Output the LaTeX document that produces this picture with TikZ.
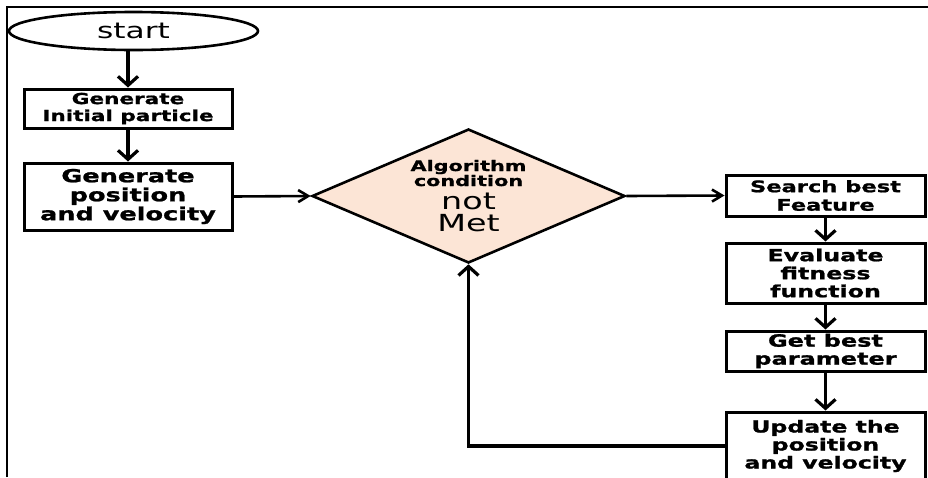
\documentclass[tikz,border=0pt]{standalone}
\usepackage{fontspec}
\newfontfamily\wf[FakeStretch=1.42,BoldFeatures={FakeBold=1.2}]{DejaVu Sans}
\usetikzlibrary{shapes.geometric,arrows.meta}
\definecolor{peach}{RGB}{252,229,214}
\begin{document}
\begin{tikzpicture}[x=1pt,y=-1pt,
  box/.style={draw,line width=3pt,rectangle,inner sep=0pt,align=center,minimum width=#1},
  box/.default=208pt,
  varr/.style={line width=3.2pt,-{Straight Barb[length=9pt,width=20pt]}},
  harr/.style={line width=2.6pt,-{Straight Barb[length=10pt,width=12pt]}},
  txt/.style={inner sep=0pt,anchor=base}]
\useasboundingbox (0,0) rectangle (928,477);
\clip (0,0) rectangle (928,477);
% frame
\draw[line width=2.6pt] (7,477) -- (7,7) -- (928,7);
% left column
\node[draw,ellipse,line width=2.6pt,inner sep=0pt,minimum width=249pt,minimum height=38pt,
  font=\wf\fontsize{22}{26}\selectfont] (st) at (133.5,31) {start};
\node[box,minimum height=39pt,font=\wf\bfseries\fontsize{15.2}{17}\selectfont] (b1) at (128,108.5)
  {Generate\\Initial particle};
\node[box,minimum height=67pt,font=\wf\bfseries\fontsize{18}{19}\selectfont] (b2) at (128,196.5)
  {Generate\\position\\and velocity};
% decision
\node[draw,diamond,fill=peach,line width=2.6pt,inner sep=0pt,minimum width=313pt,minimum height=134pt]
  (dm) at (468.5,196) {};
\node[txt,font=\wf\bfseries\fontsize{14.6}{15}\selectfont] (d1) at (468.5,171) {Algorithm};
\node[txt,font=\wf\bfseries\fontsize{14.6}{15}\selectfont] (d2) at (468.5,186) {condition};
\node[txt,font=\wf\fontsize{23.5}{24}\selectfont] (d3) at (468.5,209) {not};
\node[txt,font=\wf\fontsize{23.5}{24}\selectfont] (d4) at (468.5,231) {Met};
% right column
\node[box=199pt,minimum height=41pt,font=\wf\bfseries\fontsize{15.9}{18.5}\selectfont] (s1) at (825.5,195.5)
  {Search best\\Feature};
\node[box=199pt,minimum height=60pt,font=\wf\bfseries\fontsize{16.7}{18}\selectfont] (s2) at (825.5,273)
  {Evaluate\\fitness\\function};
\node[box=199pt,minimum height=40pt,font=\wf\bfseries\fontsize{16.9}{18}\selectfont] (s3) at (825.5,351)
  {Get best\\parameter};
\node[box=199pt,minimum height=68pt,font=\wf\bfseries\fontsize{16.6}{18}\selectfont] (s4) at (825.5,446)
  {Update the\\position\\and velocity};
% connectors
\draw[varr] (st.south -| b1.north) -- (b1.north);
\draw[varr] (b1) -- (b2);
\draw[harr] (b2.east) -- (dm.west);
\draw[harr] (dm.east) -- (s1.west);
\draw[varr] (s1) -- (s2);
\draw[varr] (s2) -- (s3);
\draw[varr] (s3) -- (s4);
\draw[varr] (s4.west) -- (s4.west -| dm.south) -- (dm.south);
\end{tikzpicture}
\end{document}
